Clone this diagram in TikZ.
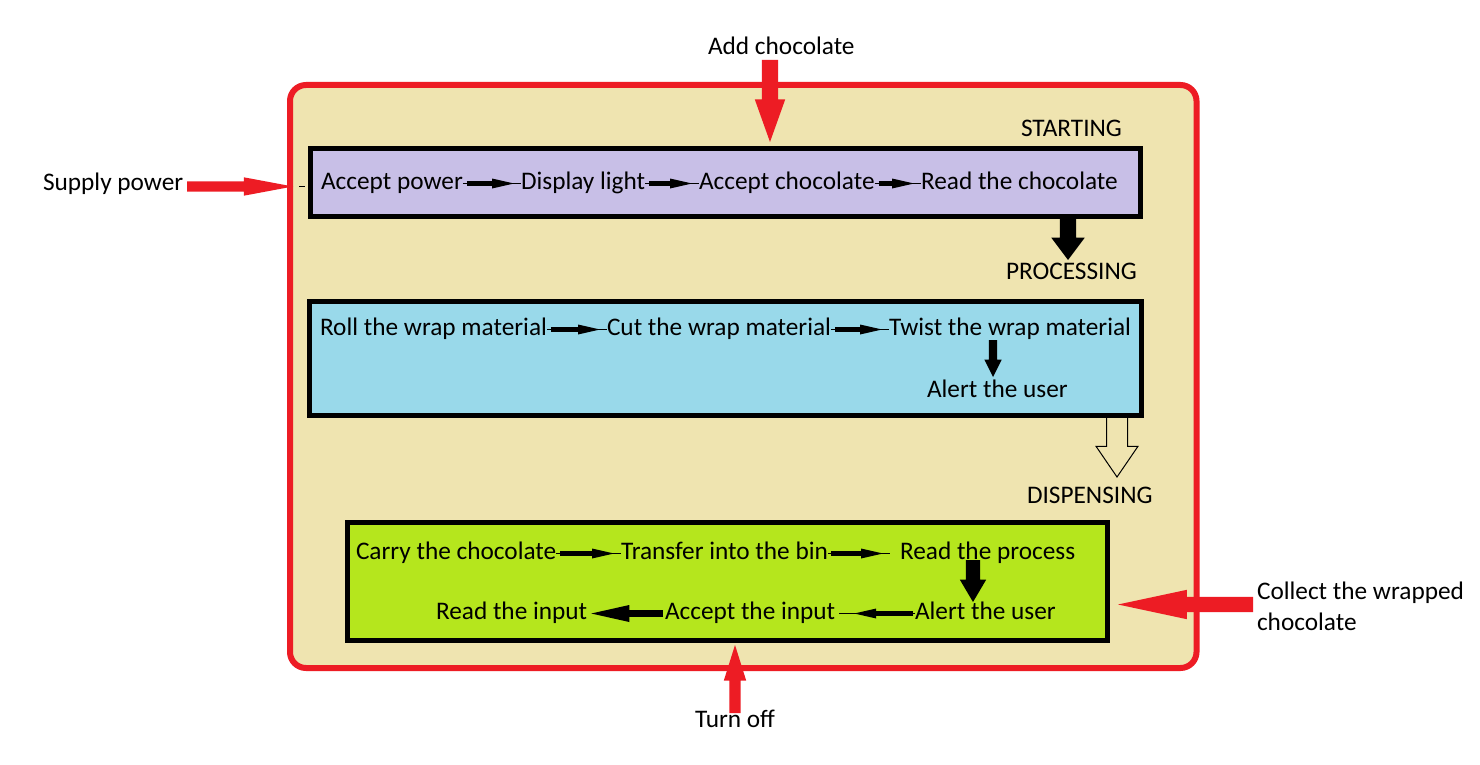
\documentclass[tikz,border=0pt]{standalone}
\usepackage{fontspec}
\setmainfont{Carlito}
\usetikzlibrary{arrows.meta,shapes.arrows,calc}
\definecolor{pbeige}{HTML}{EFE4B0}
\definecolor{plav}{HTML}{C8BFE7}
\definecolor{pturq}{HTML}{99D9EA}
\definecolor{plime}{HTML}{B5E61D}
\definecolor{pred}{HTML}{ED1C24}
\tikzset{
  txt/.style={anchor=base west, inner sep=0pt, outer sep=0pt, text height=17pt, text depth=6pt, font=\fontsize{25.3}{30}\selectfont},
  panel/.style={draw=black, line width=5pt, inner sep=0pt, outer sep=0pt},
  fat/.style={single arrow, inner xsep=0pt, outer sep=0pt, anchor=tip},
  thinline/.style={line width=1.2pt},
  bar/.style={line width=5pt, -{Triangle[length=22pt,width=10pt,line width=0pt]}},
  bigbar/.style={line width=7pt, -{Triangle[length=38pt,width=17pt,line width=0pt]}},
}
\newcommand\rowarr[2]{%
  \draw[thinline] (#1.east) -- (#2.west);
  \draw[bar, shorten >=7pt] ([xshift=4pt]#1.east) -- (#2.west);}
\begin{document}
\begin{tikzpicture}[x=1pt,y=-1pt]
\useasboundingbox (0,0) rectangle (1480,765);
\fill[white] (0,0) rectangle (1480,765);
% outer container
\node[draw=pred, fill=pbeige, line width=6pt, rounded corners=16pt, inner sep=0pt, outer sep=0pt,
      minimum width=906.5pt, minimum height=583pt] (outer) at (743.25,376.5) {};
% hollow arrow (behind processing box)
\node[fat, rotate=-90, draw=black, fill=pbeige, line width=1pt, inner ysep=10pt, minimum height=64pt, minimum width=41pt,
      single arrow head extend=10.5pt, single arrow tip angle=68.7] (ha) at (1117,477) {};
% panels
\node[panel, fill=plav, minimum width=829.5pt, minimum height=68pt] (b1) at (725.25,182.5) {};
\node[panel, fill=pturq, minimum width=832pt, minimum height=113.5pt] (b2) at (725.5,358.25) {};
\node[panel, fill=plime, minimum width=760pt, minimum height=118pt] (b3) at (727.5,581.5) {};
% stage labels
\node[txt] (st) at (1021,136) {STARTING};
\node[txt] (pr) at (1006,279) {PROCESSING};
\node[txt] (di) at (1027,503) {DISPENSING};
% starting row
\node[txt] (a1) at (321,189) {Accept power};
\node[txt] (a2) at (521,189) {Display light};
\node[txt] (a3) at (699,189) {Accept chocolate};
\node[txt] (a4) at (921,189) {Read the chocolate};
\rowarr{a1}{a2}
\rowarr{a2}{a3}
\rowarr{a3}{a4}
% processing row
\node[txt] (p1) at (320,335) {Roll the wrap material};
\node[txt] (p2) at (607,335) {Cut the wrap material};
\node[txt] (p3) at (889,335) {Twist the wrap material};
\node[txt] (p4) at (927,397) {Alert the user};
\rowarr{p1}{p2}
\rowarr{p2}{p3}
% dispensing rows
\node[txt] (d1) at (356,559) {Carry the chocolate};
\node[txt] (d2) at (621,559) {Transfer into the bin};
\node[txt] (d3) at (900,559) {Read the process};
\node[txt] (d4) at (915,619) {Alert the user};
\node[txt] (d5) at (665,619) {Accept the input};
\node[txt] (d6) at (436,619) {Read the input};
\rowarr{d1}{d2}
\draw[thinline] (d2.east) -- ([xshift=-10pt]d3.west);
\draw[bar, shorten >=17pt] ([xshift=3pt]d2.east) -- (d3.west);
\draw[thinline] (d4.west) -- ([xshift=4pt]d5.east);
\draw[bar, shorten >=19pt] ([xshift=-2pt]d4.west) -- (d5.east);
\draw[bigbar] ([xshift=-2pt]d5.west) -- ([xshift=4pt]d6.east);
% black block arrows
\node[fat, rotate=-90, fill=black, inner ysep=8pt, minimum height=44pt, minimum width=33pt,
      single arrow head extend=8.5pt, single arrow tip angle=73.7] (k1) at (1068,260) {};
\node[fat, rotate=-90, fill=black, inner ysep=4pt, minimum height=37pt, minimum width=17pt,
      single arrow head extend=4.5pt, single arrow tip angle=53.1] (k2) at (993,377) {};
\node[fat, rotate=-90, fill=black, inner ysep=7pt, minimum height=42pt, minimum width=26pt,
      single arrow head extend=6pt, single arrow tip angle=61.1] (k3) at (973,602) {};
% external inputs / outputs
\node[txt] (e1) at (708,55) {Add chocolate};
\node[txt] (e2) at (43,190) {Supply power};
\node[txt] (e3) at (695,727) {Turn off};
\node[txt] (e4) at (1257,599) {Collect the wrapped};
\node[txt] (e5) at (1257,630) {chocolate};
\node[fat, rotate=-90, fill=pred, inner ysep=8pt, minimum height=82pt, minimum width=30pt,
      single arrow head extend=7pt, single arrow tip angle=39.3] (r1) at (770,142) {};
\node[fat, fill=pred, inner ysep=5pt, minimum height=106pt, minimum width=18pt,
      single arrow head extend=4pt, single arrow tip angle=21.2] (r2) at (293,186.5) {};
\node[fat, rotate=90, fill=pred, inner ysep=5.5pt, minimum height=68pt, minimum width=22pt,
      single arrow head extend=5.5pt, single arrow tip angle=34.9] (r3) at (735,645) {};
\node[fat, rotate=180, fill=pred, inner ysep=7.5pt, minimum height=135pt, minimum width=29pt,
      single arrow head extend=7pt, single arrow tip angle=24.1] (r4) at (1118,604.5) {};
\draw[line width=1.3pt] (299,186.5) -- (305,186.5);
\end{tikzpicture}
\end{document}
